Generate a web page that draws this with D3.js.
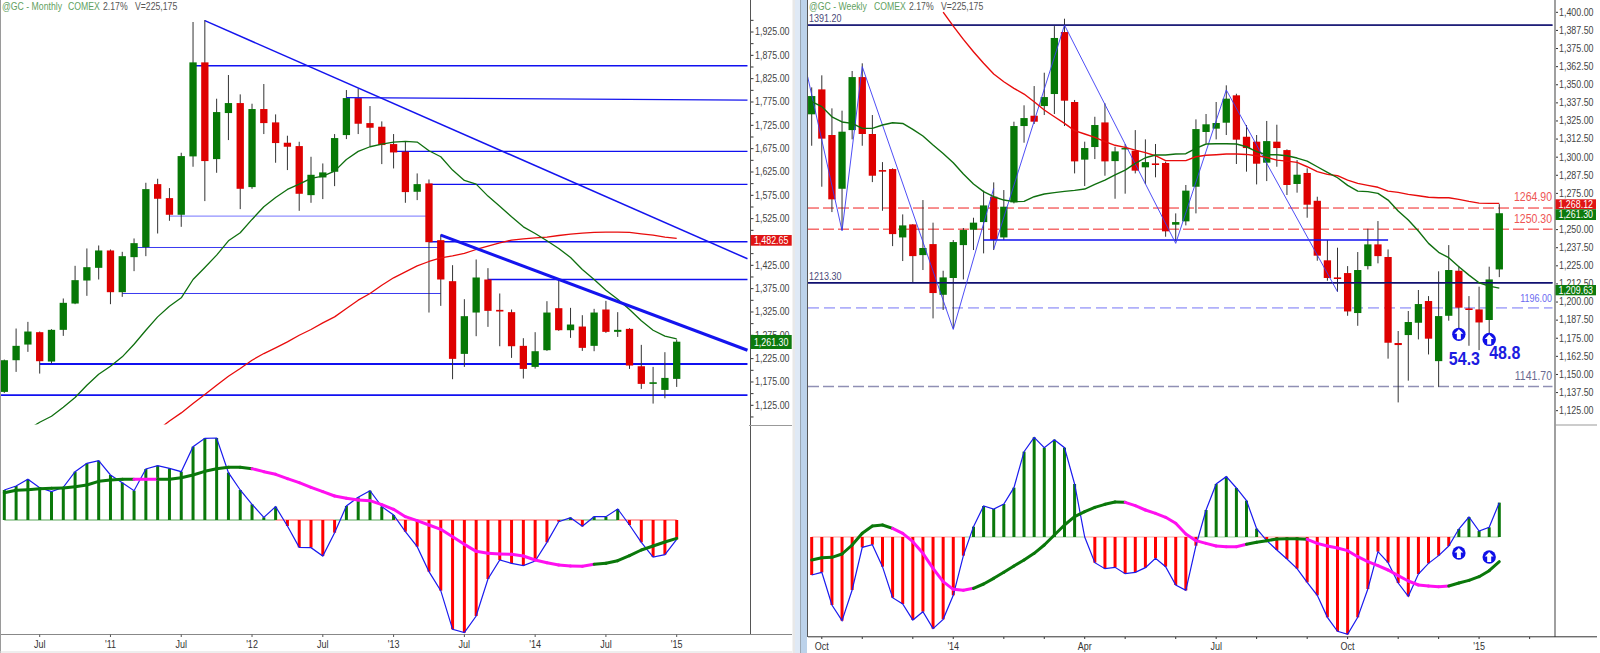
<!DOCTYPE html>
<html><head><meta charset="utf-8">
<script src="https://cdn.jsdelivr.net/npm/d3@7/dist/d3.min.js"></script>
<style>html,body{margin:0;padding:0;background:#fff;overflow:hidden}svg{display:block}text{font-family:"Liberation Sans",Arial,sans-serif}</style>
</head><body><svg id="c" width="1600" height="653"></svg>
<script>
// ---------- Monthly @GC ----------
const mOpen=[1153.7,1221.6,1255.2,1281.7,1218.8,1286.7,1343.1,1392.4,1419.6,1456.8,1367.4,1442.5,1463.9,1599,1569,1533.3,1658.4,1859.9,1652.6,1751.3,1772.7,1592.6,1759.9,1731.3,1687.7,1680.5,1575.4,1613.3,1625.5,1704.1,1783.4,1729.8,1722,1684.8,1668.4,1582.6,1600.5,1478.9,1391,1235.2,1323.8,1394.6,1329.5,1324.6,1252.4,1207.3,1243.1,1333.1,1285.9,1293.8,1252.4,1330.3,1282.4,1288.8,1208.7,1170.9,1158,1181.6];
const mHigh=[1223,1289.5,1303.8,1283.1,1288.1,1353.9,1423.9,1461.1,1467.5,1458.9,1453.9,1482.5,1601.9,1610.5,1590.5,1666.2,1946.4,1950.7,1782,1832.8,1791.3,1771.3,1813.5,1748.4,1702.7,1689.8,1657.6,1643.3,1706.3,1800.6,1804.2,1766.3,1733.4,1706.3,1689.8,1621.9,1609,1491.1,1425.3,1352.4,1437.5,1418.9,1364.6,1330.3,1268.8,1281.7,1348.1,1394.6,1333.8,1318.1,1331.7,1348.8,1324.6,1290.2,1254.5,1207.3,1238.8,1265.9];
const mLow=[1151.6,1196.6,1239.5,1193,1214.5,1273.8,1341.7,1359.6,1394.6,1341.7,1357.4,1412.5,1444.6,1493.2,1520.4,1507.5,1636.2,1562.6,1623.3,1693.4,1545.4,1589,1706.3,1644.8,1629.1,1541.8,1559,1566.9,1594.7,1695.5,1706.3,1679.1,1641.9,1632.6,1559,1564.7,1323.8,1338.1,1180.9,1207.3,1273.1,1293.1,1251.6,1226.6,1182.3,1203.7,1241.6,1284.5,1269.5,1241.6,1240.9,1280.2,1271.6,1203,1160.1,1128.7,1140.1,1164.4];
const mClose=[1221.6,1252.4,1283.1,1219.5,1286.7,1344.6,1393.2,1421,1456.8,1367.4,1444.6,1472.5,1588.3,1567.6,1533.3,1659.1,1859.9,1648.4,1753.4,1772.7,1589,1759.9,1729.8,1687,1679.1,1578.3,1619,1624.1,1697.7,1783.4,1728.4,1719.8,1682.7,1666.9,1581.9,1599,1474.6,1394.6,1224.5,1316,1398.9,1327.4,1326,1251.6,1203,1240.9,1323.8,1285.9,1298.1,1248.1,1323.8,1282.4,1286.7,1210.2,1170.9,1174.4,1183.7,1261.3];
const mAvgFastStart=2;
const mAvgFast=[1072.9,1088.7,1101.5,1120.8,1141.6,1168,1191.6,1208.7,1228.8,1255.9,1285.9,1314.5,1337.4,1355.3,1394.6,1420.3,1446.8,1477.5,1494.7,1523.3,1550.4,1570.4,1587.6,1599,1611.2,1616.2,1626.9,1651.9,1669.1,1679.1,1684.8,1689.1,1690.5,1689.1,1670.5,1657.6,1629.1,1606.9,1599,1573.3,1551.8,1529,1507.5,1493.2,1477.5,1461.1,1441.8,1416,1394.6,1371.7,1352.4,1330.3,1306,1285.9,1273.1,1267.4];
const mAvgSlowStart=13;
const mAvgSlow=[1071.5,1091.5,1108.7,1128.7,1148,1168,1187.3,1203.7,1221.6,1235.9,1248.1,1260.9,1275.2,1287.4,1301.7,1314.5,1332.4,1350.3,1364.6,1382.4,1398.2,1411,1423.9,1433.2,1441.1,1445.3,1450.4,1458.9,1466.1,1473.2,1478.9,1481.8,1483.9,1485.4,1488.9,1491.8,1494,1495.4,1496.1,1496.1,1495.4,1492.5,1489.7,1485.4,1482.65];
const mHist=[9,10.2,12.2,9.7,8.5,9.8,14.5,17,17.8,13.5,11.2,8.8,15.3,16.3,15.5,14.5,22,24.5,24.6,14.2,9,4.7,.8,4,-1.8,-8.2,-8.3,-10.8,-3.8,4.2,6.8,8.8,4,1.5,-3.5,-8,-15.5,-21.2,-32.8,-33.8,-28.8,-17.7,-12,-13,-13.7,-12.3,-6.7,-.5,.7,-1.9,1,1,3.3,-1.5,-6.7,-11.1,-10.4,-5.8];
const mSignal=[8.2,8.9,9.1,9.4,9.5,9.6,10,10.5,11.6,12,12.2,12.2,12.2,12.2,12.2,12.7,13.5,14.6,15.4,15.8,15.8,15.4,14.5,13.7,12.4,11.2,9.8,8.5,7.2,6.5,6,5.8,4.6,3.2,1,-.2,-1.5,-2.8,-5,-7.3,-9.4,-10,-10.2,-10.3,-10.8,-12,-12.8,-13.5,-13.8,-13.9,-13.3,-13,-12.2,-10.7,-9,-7.8,-6.6,-5.5];
const mSignalFalling=[[11,13],[21,50]];
const mLevels=[{from:3,price:1213.3,w:2},{from:-1,price:1146.6,w:1.8},{from:10,to:37,price:1364.6,w:1,c:"#3a3af0"},{from:11,to:37,price:1463.2,w:1,c:"#3a3af0"},{from:14,to:36,price:1530.4,w:1.2,c:"#9090ff"},{from:16,price:1852.8,w:1.4},{from:33,price:1669.1,w:1.3},{from:36,price:1598.3,w:1.3},{from:36,price:1475.4,w:1.4},{from:41,price:1394.6,w:1.3}];
const mTrends=[{a:29,pa:1784.5,b:63,pb:1779.2,w:1.3},{a:17,pa:1949.3,b:63,pb:1439,w:1.5},{a:37,pa:1489.7,b:63,pb:1243,w:3}];
const mTicks=[[3,"Jul"],[9,"'11"],[15,"Jul"],[21,"'12"],[27,"Jul"],[33,"'13"],[39,"Jul"],[45,"'14"],[51,"Jul"],[57,"'15"]];
const mPriceLabels=[1925,1875,1825,1775,1725,1675,1625,1575,1525,1425,1375,1325,1275,1225,1175,1125];
const mPriceMinor=[1950,1900,1850,1800,1750,1700,1650,1600,1550,1500,1475,1450,1400,1350,1300,1250,1200,1150,1100];
// ---------- Weekly @GC ----------
const wOpen=[1329.6,1346.8,1315.3,1278.2,1318.7,1355.3,1316,1291.1,1291.8,1244.6,1253.6,1232.4,1240,1205,1216.6,1239.3,1249.9,1255.2,1272.7,1244.6,1268.8,1321.5,1328.6,1335.3,1343.6,1386.4,1338.1,1298.3,1307,1324,1297.3,1305.6,1304.5,1293,1295.7,1296,1253.4,1255.7,1279.6,1317.4,1319.7,1323.8,1342.7,1314.1,1310.7,1296.2,1310.7,1304.9,1281.5,1289.1,1269.9,1228.8,1217,1220,1192.4,1224.8,1239.8,1231.1,1171.7,1177.2,1185.7,1200.7,1159.2,1190.5,1221.6,1195.6,1194.9,1187.6,1222.5];
const wHigh=[1348.2,1356.5,1333.7,1332.1,1359.5,1364.8,1329.1,1296.6,1292.3,1260.5,1253.8,1270.4,1254.8,1221.6,1242.8,1251.1,1258.2,1276.9,1282.6,1277.3,1324.5,1335.8,1349.1,1358.3,1390.5,1395.6,1339.5,1310.7,1327.9,1337.2,1307.2,1309.1,1318.7,1312.3,1309.1,1296.9,1261.2,1280.8,1326.1,1329.8,1338.1,1349.6,1343.8,1322.2,1315.3,1325,1322.4,1305.4,1298,1292.3,1272.7,1242.8,1237.5,1224.8,1234.5,1250.6,1255.9,1236.3,1180,1193.8,1208.3,1204.1,1221.2,1239.3,1224.8,1204.1,1210.6,1224.4,1267.6];
const wLow=[1307.9,1279.6,1262.1,1249.7,1312.3,1307.9,1282.8,1263,1238.6,1228.3,1213.3,1222.1,1188.7,1194.5,1181.8,1215.6,1235.9,1233.6,1235.9,1242.8,1268.1,1310,1322.9,1329.1,1329.8,1321.5,1288.8,1280.1,1298.7,1287.2,1271.3,1274.8,1288.8,1281.5,1286.1,1245.1,1241.9,1252.9,1261.2,1309.5,1312.3,1315.3,1295.3,1290,1281.2,1283.5,1293.4,1273.9,1275.5,1258.2,1228.5,1214.7,1207.1,1190.5,1183.6,1222.5,1226.7,1160.9,1130.7,1145.7,1174.2,1163.8,1141.5,1187.1,1178.3,1169.8,1166.8,1178.3,1217.2];
const wClose=[1342.2,1312.8,1270.9,1317.6,1355.3,1316,1287.2,1290,1246.9,1252.9,1231.7,1237.3,1206.2,1217,1241.4,1249.7,1254.8,1266.7,1242.8,1265.8,1321.5,1327,1324.5,1341.5,1382.3,1339,1297.1,1306.3,1322.2,1297.1,1304,1306.3,1290.7,1296.6,1294.6,1248.8,1255.2,1276.9,1319.4,1322.7,1323.6,1340.4,1312.1,1306.3,1295.5,1311.1,1306.3,1280.8,1287.9,1267.2,1232,1216.6,1215.9,1193.5,1222.1,1239.8,1231.7,1171.9,1170.3,1186.2,1198.6,1174.7,1190.3,1222.1,1196.1,1194.5,1185.9,1215.6,1261.3];
const wAvgFast=[1338.3,1334.9,1327.9,1324.3,1323.3,1319.9,1319.9,1322.2,1323.8,1323.3,1319.2,1314.6,1308.4,1302.6,1296.2,1288.4,1281.5,1276.2,1272.7,1270.4,1269.3,1269.5,1272.7,1274.6,1275.5,1276.4,1277.1,1278,1281.2,1284.2,1287.7,1291.1,1295.7,1299.6,1301.5,1301.5,1302.2,1302.4,1306.1,1309.1,1309.3,1309.3,1309.1,1307.2,1303.8,1301.7,1301.7,1301,1299.4,1297.3,1293.4,1289.5,1285.8,1280.5,1276.6,1276.2,1275,1270.4,1262.8,1256.6,1249,1240.5,1234.3,1230.6,1224.4,1218.6,1213.3,1211,1209.63];
const wAvgSlowStart=13;
const wAvgSlow=[1400.2,1390.5,1381.3,1372.8,1364.8,1357.4,1352.1,1347.5,1343.6,1338.3,1332.6,1327.9,1323.3,1318.3,1316,1313.7,1310.7,1308.2,1306.8,1304.9,1303.1,1301,1297.6,1297.6,1297.6,1300.3,1301.3,1301.7,1302.2,1302.2,1301.9,1301,1299.9,1298,1297.3,1296.4,1293.4,1290,1288.1,1287.2,1284.2,1281.9,1280.5,1279.2,1276.6,1275.7,1274.3,1273.4,1272.3,1272,1272,1270.9,1269.5,1268.3,1268.1,1268.12];
const wHist=[-11.4,-10.6,-20.4,-25.1,-15.9,-3.1,-2.3,-8.9,-18.2,-20.1,-24.9,-22.4,-27.5,-24.7,-17.5,-5.6,3.1,9.3,8.4,9.9,14.8,25.6,29.9,26.8,29.2,26.8,15.9,0,-7.7,-9.5,-9.1,-11,-10.6,-9.2,-6.4,-8.9,-14.4,-16,-2.6,8.1,15.9,18.1,14.7,10.9,2.5,-1.1,-3.9,-6.6,-9.5,-13.6,-17.5,-24.1,-28.3,-29.2,-24.1,-15.6,-4.4,-7.7,-13.8,-17.8,-11.1,-7.9,-5.6,-2.7,2.4,6,1.8,2.9,10.3];
const wSignal=[-6.9,-6.2,-6.1,-5.1,-2.4,1.1,3.3,3.6,2.6,1.1,-1.4,-4.9,-9.4,-13.4,-15.7,-16,-15.4,-14.1,-12.4,-10.6,-8.7,-6.9,-4.9,-2.4,.6,3.6,6.1,7.6,8.9,9.8,10.5,10.4,9.4,8.1,7.1,5.9,4.1,.9,-1.1,-1.9,-2.7,-2.9,-2.9,-2.2,-1.6,-1.1,-.6,-.5,-.5,-.7,-1.9,-2.7,-3.3,-4.1,-5.9,-7.4,-8.6,-9.9,-11.6,-13.2,-14.4,-14.7,-14.9,-14.7,-13.8,-13,-11.9,-10.1,-7.4];
const wSignalFalling=[[8,16],[31,43],[49,63]];
const wSwingIdx=[-0.4,3,5,14,18];
const wSwingPrice=[1355.6,1249.2,1362.5,1181.1,1278.5];
const wSwing2Idx=[18,25,36,41,52];
const wSwing2Price=[1236.4,1391.2,1240.5,1346.4,1207.1];
const wLevels=[{price:1391.2,label:"1391.20",c:"#101070",tc:"#4a4a78",w:1.4,side:"l",size:9},{price:1213.3,label:"1213.30",c:"#101070",tc:"#4a4a78",w:1.6,side:"l",size:9},{price:1264.9,label:"1264.90",c:"#f02020",tc:"#ee5555",w:1,dash:"11 4",side:"r",size:10.5,dy:-7},{price:1250.3,label:"1250.30",c:"#f02020",tc:"#ee5555",w:1,dash:"11 4",side:"r",size:10.5,dy:-7},{price:1196,label:"1196.00",c:"#b0b0fa",tc:"#6a6af0",w:1.6,dash:"11 5",side:"r",size:9,dy:-6.5},{price:1141.7,label:"1141.70",c:"#8f8fb4",tc:"#6a6a90",w:1.4,dash:"11 4",side:"r",size:10.5,dy:-7}];
const wTicks=[[1,"Oct"],[5,""],[10,""],[14,"'14"],[19,""],[23,""],[27,"Apr"],[31,""],[36,""],[40,"Jul"],[44,""],[49,""],[53,"Oct"],[58,""],[62,""],[66,"'15"],[71,""]];
const wPriceLabels=[1400,1387.5,1375,1362.5,1350,1337.5,1325,1312.5,1300,1287.5,1275,1250,1237.5,1225,1212.5,1200,1187.5,1175,1162.5,1150,1137.5,1125];
const wPriceMinor=[1262.5];
const wSignals=[{i:64,price:1177.7,macd:-4.8},{i:67,price:1174.2,macd:-6}];
const wNotes=[{i:64,price:1157.2,dx:-10,label:"54.3"},{i:67,price:1161,dx:0,label:"48.8"}];

// ---------- drawing ----------
const svg=d3.select("#c");
const RED="#de0000",GRN="#067806",BLUE="#1a1aee",MAG="#ff10f0",DGRN="#0a780a";
const fmt=d3.format(",.2f");

// window furniture
svg.append("rect").attr("x",0).attr("y",0).attr("width",1).attr("height",653).attr("fill","#9a9a9a");
svg.append("rect").attr("x",0).attr("y",651.5).attr("width",792).attr("height",1).attr("fill","#ddd");
svg.append("rect").attr("x",792.5).attr("y",0).attr("width",2.5).attr("height",653).attr("fill","#e8e8e8");
svg.append("rect").attr("x",795).attr("y",0).attr("width",5).attr("height",653).attr("fill","#dfe9f5");
svg.append("rect").attr("x",800).attr("y",0).attr("width",1).attr("height",653).attr("fill","#9aa6b2");
svg.append("rect").attr("x",801).attr("y",0).attr("width",6).attr("height",653).attr("fill","#bcd2ea");
svg.append("rect").attr("x",807).attr("y",0).attr("width",1).attr("height",637).attr("fill","#555");

function clip(id,x,y,w,h){svg.append("clipPath").attr("id",id).append("rect").attr("x",x).attr("y",y).attr("width",w).attr("height",h);}
clip("mp",1,0,749,424.5);clip("wp",808,0,747,425);

function title(g,xs,y,parts){
  parts.forEach((p,i)=>g.append("text").attr("x",xs[i]).attr("y",y).attr("font-size",8.7).attr("fill",p[1]).text(p[0]));
}
function candles(g,x,y,o,h,l,c,bw){
  const idx=d3.range(o.length);
  g.selectAll(".w").data(idx).join("line").attr("x1",x).attr("x2",x).attr("y1",i=>y(h[i])).attr("y2",i=>y(l[i])).attr("stroke","#333").attr("stroke-width",1);
  g.selectAll(".b").data(idx).join("rect").attr("x",i=>x(i)-bw/2).attr("width",bw)
   .attr("y",i=>y(Math.max(o[i],c[i]))).attr("height",i=>Math.max(1.4,Math.abs(y(o[i])-y(c[i]))))
   .attr("fill",i=>c[i]>=o[i]?GRN:RED);
}
function maLine(g,x,y,vals,start,col,w){
  g.append("path").attr("d",d3.line().x((d,i)=>x(i+start)).y(d=>y(d))(vals)).attr("fill","none").attr("stroke",col).attr("stroke-width",w).attr("stroke-linejoin","round");
}
function macd(g,x,y,hist,sig,falling,barW,zeroOp){
  const idx=d3.range(hist.length);
  g.selectAll(".z").data(idx.slice(0,-1)).join("line").attr("x1",x).attr("x2",i=>x(i+1)).attr("y1",y(0)).attr("y2",y(0))
   .attr("stroke",i=>hist[i+1]>=0?"#2f8f2f":"#ff3030").attr("stroke-opacity",zeroOp).attr("stroke-width",1);
  g.selectAll(".h").data(idx).join("line").attr("x1",x).attr("x2",x).attr("y1",y(0)).attr("y2",i=>y(hist[i]))
   .attr("stroke",i=>hist[i]>=0?DGRN:"#ff0000").attr("stroke-width",barW);
  const line=d3.line().x(i=>x(i)).y(i=>y(hist[i]));
  g.append("path").attr("d",line(idx)).attr("fill","none").attr("stroke",BLUE).attr("stroke-width",1.2);
  const isF=i=>falling.some(r=>i>=r[0]&&i<r[1]);
  g.selectAll(".s").data(idx.slice(0,-1)).join("line").attr("x1",x).attr("x2",i=>x(i+1)).attr("y1",i=>y(sig[i])).attr("y2",i=>y(sig[i+1]))
   .attr("stroke",i=>isF(i)?MAG:DGRN).attr("stroke-width",3).attr("stroke-linecap","round");
}
function box(g,x,y,w,h,col,txt){
  g.append("rect").attr("x",x).attr("y",y).attr("width",w).attr("height",h).attr("fill",col);
  g.append("text").attr("x",x+w/2).attr("y",y+h/2+3.2).attr("text-anchor","middle").attr("font-size",8.9).attr("fill","#fff").text(txt);
}

// ===== Monthly pane =====
const xM=d3.scaleLinear().domain([0,57]).range([4.3,676.7]);
const yM=d3.scaleLinear().domain([1925,1125]).range([32,405.3]);
const yMm=d3.scaleLinear().domain([30,-35]).range([420,636.67]);
const gM=svg.append("g");
const gMp=gM.append("g").attr("clip-path","url(#mp)");
gMp.selectAll(".lv").data(mLevels).join("line").attr("x1",d=>d.from<0?1:xM(d.from)).attr("x2",d=>xM(d.to||63)).attr("y1",d=>yM(d.price)).attr("y2",d=>yM(d.price)).attr("stroke",d=>d.c||"#1010f0").attr("stroke-width",d=>d.w);
candles(gMp,xM,yM,mOpen,mHigh,mLow,mClose,7.3);
maLine(gMp,xM,yM,mAvgSlow,mAvgSlowStart,"#e80c0c",1.3);
maLine(gMp,xM,yM,mAvgFast,mAvgFastStart,"#0f6f0f",1.3);
gMp.selectAll(".tr").data(mTrends).join("line").attr("x1",d=>xM(d.a)).attr("x2",d=>xM(d.b)).attr("y1",d=>yM(d.pa)).attr("y2",d=>yM(d.pb)).attr("stroke","#1414ee").attr("stroke-width",d=>d.w);
macd(gM,xM,yMm,mHist,mSignal,mSignalFalling,3,.8);
title(gM,[2,68,103,135],10,[["@GC - Monthly","#5f9f5f"],["COMEX","#5f9f5f"],["2.17%","#555"],["V=225,175","#555"]]);
// monthly axes
svg.append("line").attr("x1",750.5).attr("x2",750.5).attr("y1",0).attr("y2",634).attr("stroke","#555").attr("stroke-width",1);
svg.append("line").attr("x1",1).attr("x2",792).attr("y1",634.5).attr("y2",634.5).attr("stroke","#888").attr("stroke-width",1.2);
svg.append("line").attr("x1",749).attr("x2",792).attr("y1",425.5).attr("y2",425.5).attr("stroke","#999").attr("stroke-width",1);
svg.selectAll(".mt").data(mPriceLabels.concat(mPriceMinor)).join("line").attr("x1",751).attr("x2",753.5).attr("y1",yM).attr("y2",yM).attr("stroke","#333");
svg.selectAll(".mpl").data(mPriceLabels).join("text").attr("x",755).attr("y",d=>yM(d)+3).attr("font-size",8.9).attr("fill","#444").text(d=>fmt(d));
svg.selectAll(".mxt").data(mTicks).join("line").attr("x1",d=>xM(d[0])).attr("x2",d=>xM(d[0])).attr("y1",634.5).attr("y2",637).attr("stroke","#555");
svg.selectAll(".mxl").data(mTicks).join("text").attr("x",d=>xM(d[0])).attr("y",648).attr("text-anchor","middle").attr("font-size",9).attr("fill","#333").text(d=>d[1]);
box(svg,750.7,235,41,10.7,"#e01414",fmt(mAvgSlow[mAvgSlow.length-1]));
box(svg,750.7,335,41,14,"#0d7a0d",fmt(mClose[mClose.length-1]));

// ===== Weekly pane =====
const xW=d3.scaleLinear().domain([0,68]).range([811.7,1499.3]);
const yW=d3.scaleLinear().domain([1400,1125]).range([12.33,410.67]);
const yWm=d3.scaleLinear().domain([30,-30]).range([437,637]);
const gW=svg.append("g");
const gWp=gW.append("g").attr("clip-path","url(#wp)");
gWp.selectAll(".wl").data(wLevels).join("line").attr("x1",808).attr("x2",1552.5).attr("y1",d=>yW(d.price)).attr("y2",d=>yW(d.price)).attr("stroke",d=>d.c).attr("stroke-width",d=>d.w).attr("stroke-dasharray",d=>d.dash||null);
candles(gWp,xW,yW,wOpen,wHigh,wLow,wClose,7.3);
gWp.selectAll(".wll").data(wLevels.slice(0,2)).join("line").attr("x1",808).attr("x2",1552.5).attr("y1",d=>yW(d.price)).attr("y2",d=>yW(d.price)).attr("stroke",d=>d.c).attr("stroke-width",d=>d.w);
gWp.append("line").attr("x1",xW(17)).attr("x2",xW(57)).attr("y1",yW(1242.8)).attr("y2",yW(1242.8)).attr("stroke","#1010f0").attr("stroke-width",1.6);
const swing=d3.line().x(d=>xW(d[0])).y(d=>yW(d[1]));
gWp.append("path").attr("d",swing(d3.zip(wSwingIdx,wSwingPrice))).attr("fill","none").attr("stroke","#3a3af4").attr("stroke-width",.9);
gWp.append("path").attr("d",swing(d3.zip(wSwing2Idx,wSwing2Price))).attr("fill","none").attr("stroke","#3a3af4").attr("stroke-width",.9);
maLine(gWp,xW,yW,wAvgSlow,wAvgSlowStart,"#e80c0c",1.4);
maLine(gWp,xW,yW,wAvgFast,0,"#0f6f0f",1.4);
macd(gW,xW,yWm,wHist,wSignal,wSignalFalling,3,.45);
title(gW,[809,874,909,941],10,[["@GC - Weekly","#5f9f5f"],["COMEX","#5f9f5f"],["2.17%","#555"],["V=225,175","#555"]]);
gW.selectAll(".wt").data(wLevels).join("text").attr("x",d=>d.side==="l"?809:1552).attr("y",d=>yW(d.price)+(d.dy||-3.3)).attr("text-anchor",d=>d.side==="l"?"start":"end").attr("font-size",d=>d.size).attr("fill",d=>d.tc).text(d=>d.label);
function arrow(g,cx,cy){
  g.append("circle").attr("cx",cx).attr("cy",cy).attr("r",6.7).attr("fill","#1010e8");
  g.append("path").attr("d",d3.line()([[0,-5],[4.4,-.5],[2,-.5],[2,5],[-2,5],[-2,-.5],[-4.4,-.5]])+"Z").attr("transform",`translate(${cx},${cy})`).attr("fill","#fff");
}
wSignals.forEach(s=>{arrow(gW,xW(s.i),yW(s.price));arrow(gW,xW(s.i),yWm(s.macd));});
gW.selectAll(".nt").data(wNotes).join("text").attr("x",d=>xW(d.i)+d.dx).attr("y",d=>yW(d.price)).attr("font-size",16).attr("font-weight","bold").attr("fill","#1c1ce0").text(d=>d.label);
// weekly axes
svg.append("line").attr("x1",1555).attr("x2",1555).attr("y1",0).attr("y2",637).attr("stroke","#888").attr("stroke-width",1.6);
svg.append("line").attr("x1",808).attr("x2",1597).attr("y1",636.8).attr("y2",636.8).attr("stroke","#333").attr("stroke-width",1);
svg.append("line").attr("x1",1555).attr("x2",1597).attr("y1",425).attr("y2",425).attr("stroke","#999").attr("stroke-width",1);
svg.selectAll(".wyt").data(wPriceLabels.concat(wPriceMinor)).join("line").attr("x1",1556).attr("x2",1558).attr("y1",yW).attr("y2",yW).attr("stroke","#333");
svg.selectAll(".wyl").data(wPriceLabels).join("text").attr("x",1559).attr("y",d=>yW(d)+3).attr("font-size",8.9).attr("fill","#444").text(d=>fmt(d));
svg.selectAll(".wxt").data(wTicks).join("line").attr("x1",d=>xW(d[0])).attr("x2",d=>xW(d[0])).attr("y1",637).attr("y2",639).attr("stroke","#333");
svg.selectAll(".wxl").data(wTicks).join("text").attr("x",d=>xW(d[0])).attr("y",650).attr("text-anchor","middle").attr("font-size",9).attr("fill","#333").text(d=>d[1]);
box(svg,1555.5,199.3,40.5,10,"#e01414",fmt(wAvgSlow[wAvgSlow.length-1]));
box(svg,1555.5,209.3,40.5,10.7,"#0d7a0d",fmt(wClose[wClose.length-1]));
box(svg,1555.5,285,40.5,10.3,"#0d7a0d",fmt(wAvgFast[wAvgFast.length-1]));

// the source screenshot's text is narrow and tall: keep each measured width, raise the glyph height
svg.selectAll("text").each(function(){
  const t=d3.select(this),w=this.getComputedTextLength();
  if(!w)return;
  const fs=+t.attr("font-size");
  t.attr("font-size",fs*1.16).attr("y",+t.attr("y")+fs*.04).attr("textLength",w).attr("lengthAdjust","spacingAndGlyphs");
});
</script></body></html>
